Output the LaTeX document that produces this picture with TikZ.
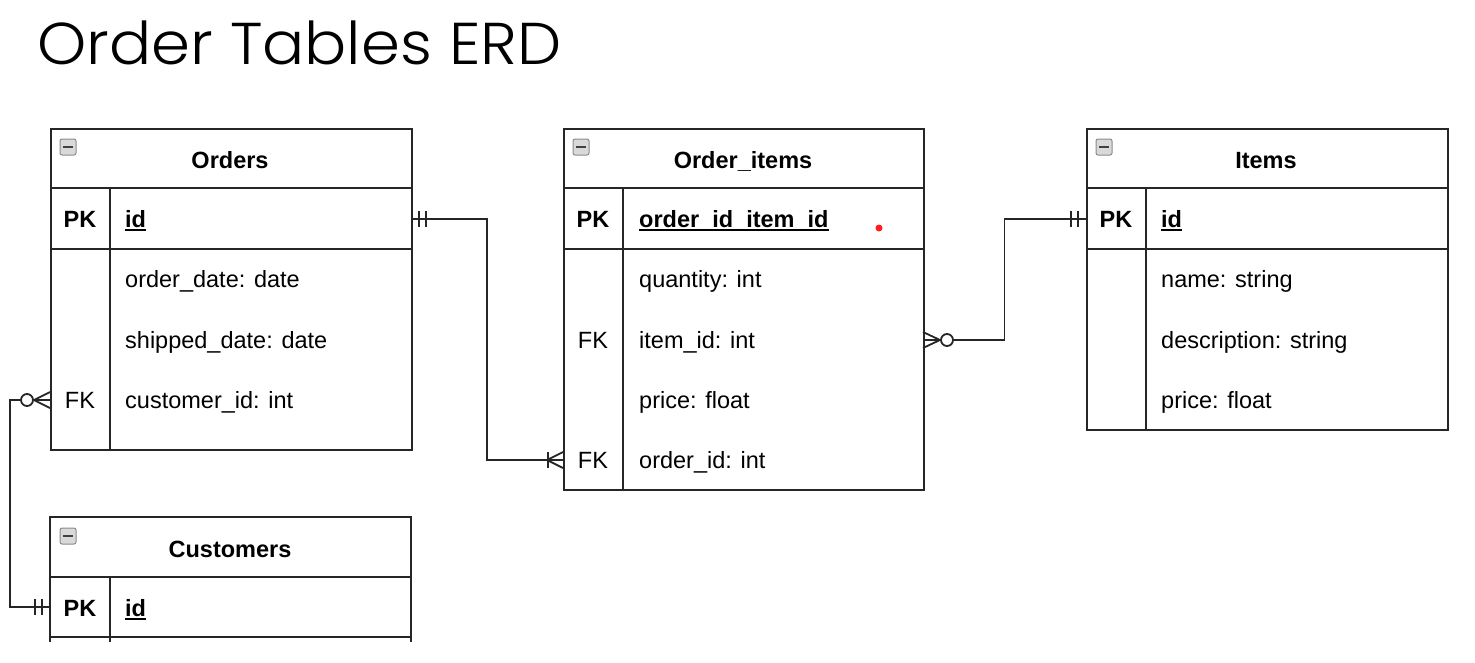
\documentclass[tikz,border=0pt]{standalone}
\usepackage{fontspec}
\setmainfont{Liberation Sans}
\newfontfamily\titlefont{Poppins}[UprightFont=* Light]
\usetikzlibrary{calc}
\begin{document}
\begin{tikzpicture}[x=1pt,y=-1pt,
  tbl/.style={draw=black!85, line width=1.8pt},
  box/.style={tbl, anchor=north west, inner sep=0pt, minimum width=361pt},
  hdr/.style={font=\bfseries\fontsize{23.5}{28}\selectfont, inner sep=0pt, anchor=base},
  txt/.style={font=\fontsize{23.5}{28}\selectfont, inner sep=0pt, anchor=base west},
  keyb/.style={font=\bfseries\fontsize{23.5}{28}\selectfont, inner sep=0pt, anchor=base},
  keyr/.style={font=\fontsize{23.5}{28}\selectfont, inner sep=0pt, anchor=base},
  rel/.style={draw=black!85, line width=1.8pt},
  icon/.style={draw=black!45, fill=black!15, rounded corners=2pt, line width=1pt, minimum size=16pt, inner sep=0pt}
]
\useasboundingbox (0,0) rectangle (1475,662);
\fill[white] (0,0) rectangle (1475,662);

% title
\node[inner sep=0pt, anchor=base west, xscale=1.06, font=\titlefont\fontsize{59}{66}\selectfont] (title) at (37,64) {Order Tables ERD};

% ---------- Orders ----------
\node[box, minimum height=321pt] (orders) at (50,128) {};
\draw[tbl] (50,188) -- (411,188) (50,249) -- (411,249) (110,188) -- (110,449);
\node[icon] (oicon) at (68,147) {}; \draw[black!75, line width=1.6pt] (63,147) -- (73,147);
\node[hdr] (ordersT) at (230,168) {Orders};
\node[keyb] (oPK) at (80,227) {PK};
\node[txt, font=\bfseries\fontsize{23.5}{28}\selectfont] (oid) at (125,227) {id};
\draw[line width=1.2pt] ([yshift=-3pt]oid.base west) -- ([yshift=-3pt]oid.base east);
\node[txt] (o1) at (125,287) {order\_date: date};
\node[txt] (o2) at (125,348) {shipped\_date: date};
\node[keyr] (oFK) at (80,408) {FK};
\node[txt] (o3) at (125,408) {customer\_id: int};

% ---------- Order_items ----------
\node[box, minimum width=360pt, minimum height=361pt] (oitems) at (563,128) {};
\draw[tbl] (563,188) -- (923,188) (563,249) -- (923,249) (623,188) -- (623,489);
\node[icon] (iicon) at (581,147) {}; \draw[black!75, line width=1.6pt] (576,147) -- (586,147);
\node[hdr] (oitemsT) at (743,168) {Order\_items};
\node[keyb] (oiPK) at (593,227) {PK};
\node[txt, font=\bfseries\fontsize{23.5}{28}\selectfont] (oiid) at (639,227) {order\_id\_item\_id};
\draw[line width=1.2pt] ([yshift=-3pt]oiid.base west) -- ([yshift=-3pt]oiid.base east);
\node[txt] (oi1) at (639,287) {quantity: int};
\node[keyr] (oiFK1) at (593,348) {FK};
\node[txt] (oi2) at (639,348) {item\_id: int};
\node[txt] (oi3) at (639,408) {price: float};
\node[keyr] (oiFK2) at (593,468) {FK};
\node[txt] (oi4) at (639,468) {order\_id: int};
\fill[red!85!pink] (879,228) circle (3.5pt);

% ---------- Items ----------
\node[box, minimum height=301pt] (items) at (1086,128) {};
\draw[tbl] (1086,188) -- (1447,188) (1086,249) -- (1447,249) (1146,188) -- (1146,429);
\node[icon] (ticon) at (1104,147) {}; \draw[black!75, line width=1.6pt] (1099,147) -- (1109,147);
\node[hdr] (itemsT) at (1266,168) {Items};
\node[keyb] (iPK) at (1116,227) {PK};
\node[txt, font=\bfseries\fontsize{23.5}{28}\selectfont] (iid) at (1161,227) {id};
\draw[line width=1.2pt] ([yshift=-3pt]iid.base west) -- ([yshift=-3pt]iid.base east);
\node[txt] (i1) at (1161,287) {name: string};
\node[txt] (i2) at (1161,348) {description: string};
\node[txt] (i3) at (1161,408) {price: float};

% ---------- Customers ----------
\draw[tbl] (50,642) -- (50,517) -- (411,517) -- (411,642);
\draw[tbl] (50,577) -- (411,577) (50,637) -- (411,637) (110,577) -- (110,642);
\coordinate (customers) at (50,517);
\node[icon] (cicon) at (68,536) {}; \draw[black!75, line width=1.6pt] (63,536) -- (73,536);
\node[hdr] (customersT) at (230,557) {Customers};
\node[keyb] (cPK) at (80,616) {PK};
\node[txt, font=\bfseries\fontsize{23.5}{28}\selectfont] (cid) at (125,616) {id};
\draw[line width=1.2pt] ([yshift=-3pt]cid.base west) -- ([yshift=-3pt]cid.base east);

% ---------- connector ends ----------
\coordinate (oPKr) at (411,219);
\coordinate (oiFKl) at (563,460);
\coordinate (oiFKr) at (923,340);
\coordinate (iPKl) at (1086,219);
\coordinate (oFKl) at (50,400);
\coordinate (cPKl) at (50,607);

% Orders.id -> Order_items.order_id
\draw[rel] (oPKr) -| ($(oPKr)!0.5!(oiFKl)$) |- (oiFKl);
\draw[rel] ($(oPKr)+(8,-8)$) -- ($(oPKr)+(8,8)$) ($(oPKr)+(15,-8)$) -- ($(oPKr)+(15,8)$);
\draw[rel] ($(oiFKl)+(-15,-8)$) -- ($(oiFKl)+(-15,8)$);
\draw[rel] ($(oiFKl)+(0,-8)$) -- ($(oiFKl)+(-16,0)$) -- ($(oiFKl)+(0,8)$);

% Order_items.item_id -> Items.id
\draw[rel] (oiFKr) -| ($(oiFKr)!0.5!(iPKl)$) |- (iPKl);
\draw[rel] ($(iPKl)+(-8,-8)$) -- ($(iPKl)+(-8,8)$) ($(iPKl)+(-15,-8)$) -- ($(iPKl)+(-15,8)$);
\draw[rel] ($(oiFKr)+(0,-8)$) -- ($(oiFKr)+(17,0)$) -- ($(oiFKr)+(0,8)$);
\draw[rel, fill=white] ($(oiFKr)+(24,0)$) circle (6pt);

% Orders.customer_id -> Customers.id
\draw[rel] (oFKl) -- (10,400) |- (cPKl);
\draw[rel] ($(cPKl)+(-8,-8)$) -- ($(cPKl)+(-8,8)$) ($(cPKl)+(-15,-8)$) -- ($(cPKl)+(-15,8)$);
\draw[rel] ($(oFKl)+(0,-8)$) -- ($(oFKl)+(-16,0)$) -- ($(oFKl)+(0,8)$);
\draw[rel, fill=white] ($(oFKl)+(-23,0)$) circle (6pt);
\end{tikzpicture}
\end{document}
